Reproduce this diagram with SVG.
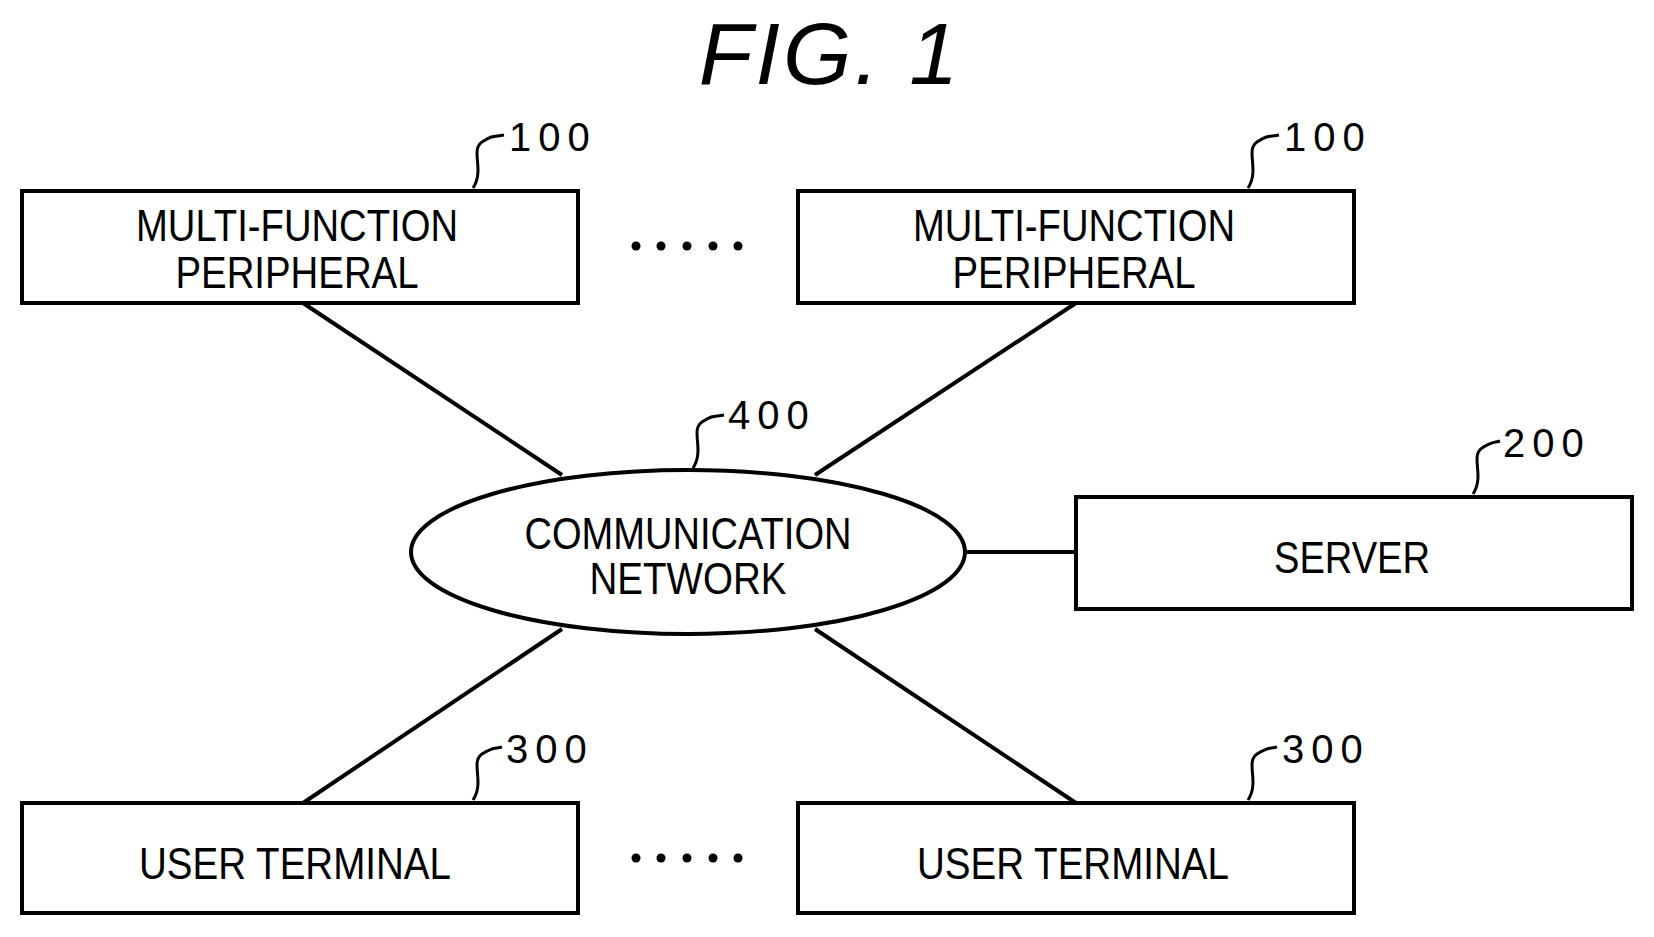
<svg xmlns="http://www.w3.org/2000/svg" width="1654" height="937" viewBox="0 0 1654 937">
<style>
.b{fill:#fff;stroke:#000;stroke-width:4}
.t{font-family:"Liberation Sans",Arial,sans-serif;font-size:44px;text-anchor:middle}
.r{font-family:"Liberation Sans",Arial,sans-serif;font-size:40px;letter-spacing:7px}
.c{fill:none;stroke:#000;stroke-width:4}
.l{fill:none;stroke:#000;stroke-width:3}
</style>
<rect width="1654" height="937" fill="#fff"/>
<text x="830" y="84" font-family="Liberation Sans,Arial,sans-serif" font-size="88" font-style="italic" text-anchor="middle" letter-spacing="3">FIG. 1</text>
<g id="connectors">
<line class="c" x1="303" y1="303" x2="562" y2="475"/>
<line class="c" x1="1076" y1="303" x2="815" y2="475"/>
<line class="c" x1="966" y1="552" x2="1076" y2="552"/>
<line class="c" x1="562" y1="629" x2="303" y2="803"/>
<line class="c" x1="815" y1="629" x2="1076" y2="803"/>
</g>
<g id="mfp1"><rect class="b" x="22" y="191" width="556" height="112"/>
<text class="t" x="297" y="241" textLength="322" lengthAdjust="spacingAndGlyphs">MULTI-FUNCTION</text>
<text class="t" x="297" y="288" textLength="243" lengthAdjust="spacingAndGlyphs">PERIPHERAL</text>
<path class="l" d="M473,188 C485,170 470,150 482,142 S495,137 504,135"/><text class="r" x="509" y="151">100</text></g>
<g id="mfp2"><rect class="b" x="798" y="191" width="556" height="112"/>
<text class="t" x="1074" y="241" textLength="322" lengthAdjust="spacingAndGlyphs">MULTI-FUNCTION</text>
<text class="t" x="1074" y="288" textLength="243" lengthAdjust="spacingAndGlyphs">PERIPHERAL</text>
<path class="l" d="M1248,188 C1260,170 1245,150 1257,142 S1270,137 1279,135"/><text class="r" x="1284" y="151">100</text></g>
<g id="network"><ellipse class="b" cx="688" cy="552" rx="277" ry="82"/>
<text class="t" x="688" y="549" textLength="327" lengthAdjust="spacingAndGlyphs">COMMUNICATION</text>
<text class="t" x="688" y="594" textLength="197" lengthAdjust="spacingAndGlyphs">NETWORK</text>
<path class="l" d="M693,468 C705,450 690,430 702,422 S715,417 724,415"/><text class="r" x="728" y="429">400</text></g>
<g id="server"><rect class="b" x="1076" y="497" width="556" height="112"/>
<text class="t" x="1352" y="573" textLength="156" lengthAdjust="spacingAndGlyphs">SERVER</text>
<path class="l" d="M1473,494 C1485,476 1470,456 1482,448 S1495,443 1500,441"/><text class="r" x="1503" y="457">200</text></g>
<g id="ut1"><rect class="b" x="22" y="803" width="556" height="110"/>
<text class="t" x="295" y="879" textLength="312" lengthAdjust="spacingAndGlyphs">USER TERMINAL</text>
<path class="l" d="M473,800 C485,782 470,762 482,754 S495,749 502,747"/><text class="r" x="506" y="763">300</text></g>
<g id="ut2"><rect class="b" x="798" y="803" width="556" height="110"/>
<text class="t" x="1073" y="879" textLength="312" lengthAdjust="spacingAndGlyphs">USER TERMINAL</text>
<path class="l" d="M1248,800 C1260,782 1245,762 1257,754 S1270,749 1277,747"/><text class="r" x="1282" y="763">300</text></g>
<g id="dots">
<circle cx="636" cy="246" r="4.5"/><circle cx="661" cy="246" r="4.5"/><circle cx="687" cy="246" r="4.5"/><circle cx="713" cy="246" r="4.5"/><circle cx="738" cy="246" r="4.5"/>
<circle cx="636" cy="858" r="4.5"/><circle cx="661" cy="858" r="4.5"/><circle cx="687" cy="858" r="4.5"/><circle cx="713" cy="858" r="4.5"/><circle cx="738" cy="858" r="4.5"/>
</g>
</svg>
